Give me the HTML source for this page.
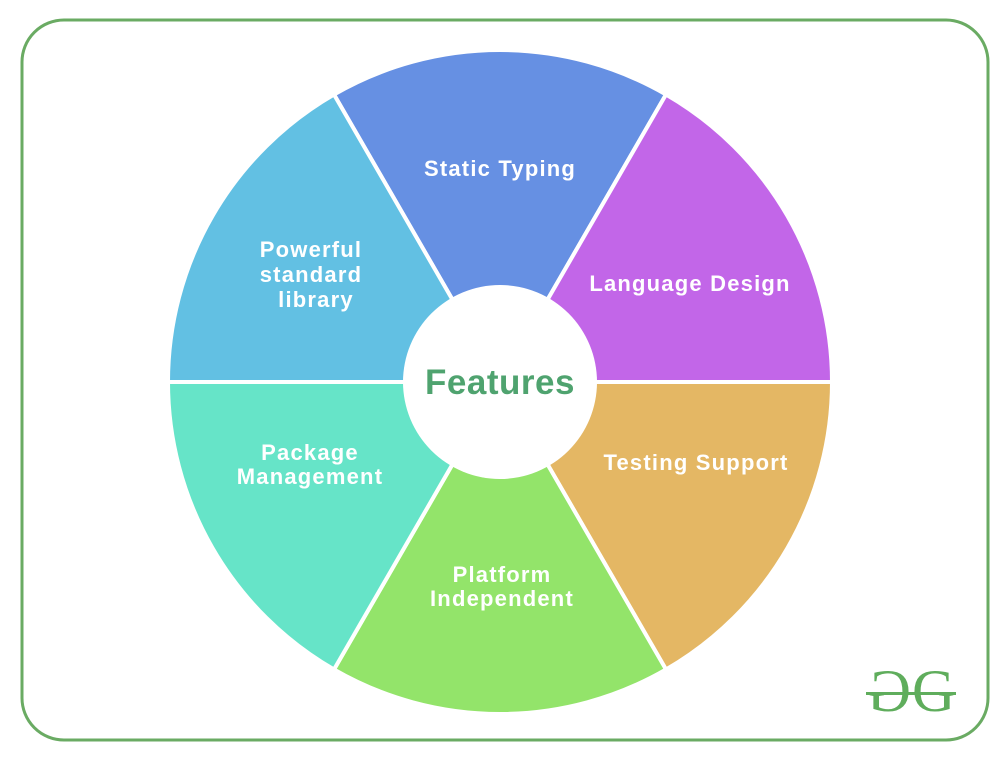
<!DOCTYPE html>
<html><head><meta charset="utf-8"><style>
html,body{margin:0;padding:0;background:#fff;width:1000px;height:757px;overflow:hidden}
svg text{font-family:"Liberation Sans",sans-serif;font-weight:bold}
</style></head><body>
<svg width="1000" height="757" viewBox="0 0 1000 757" xmlns="http://www.w3.org/2000/svg">
<rect x="22" y="20" width="966" height="720" rx="42" ry="42" fill="#fff" stroke="#6aab63" stroke-width="3"/>
<g stroke="#fff" stroke-width="4" stroke-linejoin="round">
<path d="M500,382 L334,94.5 A332,332 0 0 1 666,94.5 Z" fill="#6690E3"/>
<path d="M500,382 L666,94.5 A332,332 0 0 1 832,382 Z" fill="#C266E8"/>
<path d="M500,382 L832,382 A332,332 0 0 1 666,669.5 Z" fill="#E4B764"/>
<path d="M500,382 L666,669.5 A332,332 0 0 1 334,669.5 Z" fill="#93E46A"/>
<path d="M500,382 L334,669.5 A332,332 0 0 1 168,382 Z" fill="#66E4C8"/>
<path d="M500,382 L168,382 A332,332 0 0 1 334,94.5 Z" fill="#62C0E3"/>
</g>
<circle cx="500" cy="382" r="97" fill="#fff"/>
<text x="500" y="394" text-anchor="middle" font-size="35" letter-spacing="0.5" fill="#4fa36f">Features</text>
<g fill="#fff" font-size="22" letter-spacing="1.2" text-anchor="middle">
<text x="500" y="176">Static Typing</text>
<text x="690" y="291">Language Design</text>
<text x="696" y="470">Testing Support</text>
<text x="502" y="582">Platform</text>
<text x="502" y="606">Independent</text>
<text x="310" y="460">Package</text>
<text x="310" y="484">Management</text>
<text x="311" y="257">Powerful</text>
<text x="311" y="282">standard</text>
<text x="316" y="307">library</text>
</g>
<g fill="#5fad5c">
<text y="711" font-size="60" font-weight="normal" style="font-family:'Liberation Serif',serif;font-weight:normal" transform="translate(1778,0) scale(-1,1)"><tspan x="867">G</tspan></text>
<text x="912" y="711" font-size="60" style="font-family:'Liberation Serif',serif;font-weight:normal">G</text>
<rect x="866" y="692" width="90" height="3"/>
</g>
</svg>
</body></html>
